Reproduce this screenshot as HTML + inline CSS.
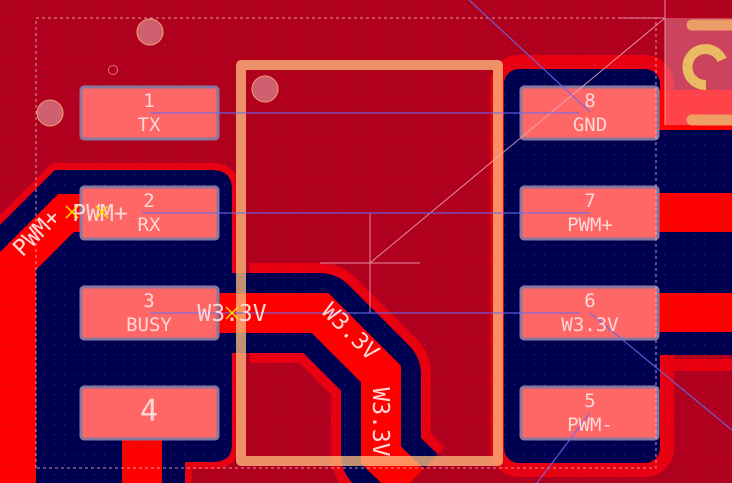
<!DOCTYPE html>
<html><head><meta charset="utf-8"><style>
html,body{margin:0;padding:0;background:#b0001e;}
svg{display:block}
text{font-family:"DejaVu Sans Mono","Liberation Mono",monospace;fill:#ffd8d8;}
</style></head><body>
<svg width="732" height="483" viewBox="0 0 732 483" xmlns="http://www.w3.org/2000/svg">
<defs>
<pattern id="dots" width="10" height="10" patternUnits="userSpaceOnUse">
<rect x="4" y="4" width="1.2" height="1.2" fill="#6a6ab0" opacity="0.35"/>
</pattern>
</defs>
<rect width="732" height="483" fill="#b0001e"/>

<!-- right navy region with ring -->
<path d="M660,365 L732,365" stroke="#e80010" stroke-width="12"/>
<rect x="497" y="62" width="170" height="408" rx="22" fill="#000050" stroke="#e80010" stroke-width="14"/>
<rect x="640" y="130" width="92" height="225" fill="#000050"/>
<rect x="640" y="193" width="92" height="39" fill="#ff0000"/>
<rect x="640" y="293" width="92" height="39" fill="#ff0000"/>
<rect x="640" y="90" width="92" height="40" fill="#ff0000"/>
<rect x="665" y="18" width="67" height="107" fill="#ffc0d0" opacity="0.35"/>
<path d="M706,85 A18,18 0 1 1 722,60" fill="none" stroke="#f0d060" stroke-width="10" opacity="0.85"/>
<line x1="692" y1="25" x2="732" y2="25" stroke="#f0a868" stroke-width="11" stroke-linecap="round" opacity="0.9"/>
<line x1="692" y1="120" x2="732" y2="120" stroke="#f0a868" stroke-width="11" stroke-linecap="round" opacity="0.9"/>

<!-- W3.3V clearance ring -->
<path d="M250,313 L320,313 L381,374 L381,455 L410,483" fill="none" stroke="#e80010" stroke-width="100" stroke-linejoin="round"/>

<!-- left navy region -->
<path d="M0,225 L55,170 L212,170 Q232,170 232,190 L232,445 Q232,462 212,462 L185,462 L185,483 L0,483 Z" fill="#000050" stroke="#e80010" stroke-width="14" stroke-linejoin="round"/>
<path d="M0,225 L55,170 L212,170 Q232,170 232,190 L232,445 Q232,462 212,462 L185,462 L185,483 L0,483 Z" fill="#000050"/>

<path d="M210,313 L320,313 L381,374 L381,455 L410,483" fill="none" stroke="#000050" stroke-width="80" stroke-linejoin="round"/>
<path d="M190,313 L320,313 L381,374 L381,455 L410,483" fill="none" stroke="#ff0000" stroke-width="40"/>

<!-- PWM+ trace -->
<path d="M17,483 L17,262 L66,213 L150,213" fill="none" stroke="#ff0000" stroke-width="38"/>
<rect x="122" y="430" width="40" height="53" fill="#ff0000"/>

<rect width="732" height="483" fill="url(#dots)"/>

<!-- pads -->
<g fill="#ff6666" stroke="#8878a0" stroke-width="3">
<rect x="81" y="87" width="137" height="52" rx="3"/>
<rect x="81" y="187" width="137" height="52" rx="3"/>
<rect x="81" y="287" width="137" height="52" rx="3"/>
<rect x="81" y="387" width="137" height="52" rx="3"/>
<rect x="521" y="87" width="137" height="52" rx="3"/>
<rect x="521" y="187" width="137" height="52" rx="3"/>
<rect x="521" y="287" width="137" height="52" rx="3"/>
<rect x="521" y="387" width="137" height="52" rx="3"/>
</g>

<g fill="#d06070" stroke="#f0a070" stroke-width="1">
<circle cx="150" cy="32" r="13"/>
<circle cx="50" cy="113" r="13"/>
<circle cx="265" cy="89" r="13"/>
</g>
<circle cx="113" cy="70" r="4.5" fill="none" stroke="#e07080" stroke-width="1"/>

<!-- silkscreen -->
<rect x="241" y="65" width="257" height="396" fill="none" stroke="#ffc080" stroke-width="10" stroke-linejoin="round" opacity="0.75"/>

<path d="M36,468 L36,18 L656,18 L656,468 Z" fill="none" stroke="#e8c0c0" stroke-width="1" stroke-dasharray="3,3" opacity="0.8"/>

<g stroke="#f0b0c0" stroke-width="1" opacity="0.8">
<line x1="370" y1="263" x2="665" y2="18"/>
<line x1="370" y1="213" x2="370" y2="313"/>
<line x1="320" y1="263" x2="420" y2="263"/>
<line x1="665" y1="0" x2="665" y2="125"/>
<line x1="620" y1="18" x2="665" y2="18"/>
</g>

<g stroke="#6a6af0" stroke-width="1.2" opacity="0.85">
<line x1="150" y1="113" x2="580" y2="113"/>
<line x1="142" y1="213" x2="590" y2="213"/>
<line x1="150" y1="313" x2="580" y2="313"/>
<line x1="469" y1="0" x2="590" y2="112"/>
<line x1="590" y1="313" x2="732" y2="430"/>
<line x1="590" y1="413" x2="537" y2="483"/>
</g>

<g font-size="19" text-anchor="middle">
<text x="149" y="107">1</text><text x="149" y="131">TX</text>
<text x="149" y="207">2</text><text x="149" y="231">RX</text>
<text x="149" y="307">3</text><text x="149" y="331">BUSY</text>
<text x="149" y="421" font-size="30">4</text>
<text x="590" y="107">8</text><text x="590" y="131">GND</text>
<text x="590" y="207">7</text><text x="590" y="231">PWM+</text>
<text x="590" y="307">6</text><text x="590" y="331">W3.3V</text>
<text x="590" y="407">5</text><text x="590" y="431">PWM-</text>
</g>

<g font-size="23">
<text x="100" y="221" text-anchor="middle">PWM+</text>
<text x="232" y="321" text-anchor="middle">W3.3V</text>
<text x="0" y="0" text-anchor="middle" transform="translate(42,238) rotate(-45)">PWM+</text>
<text x="0" y="0" text-anchor="middle" transform="translate(345,337) rotate(45)">W3.3V</text>
<text x="0" y="0" text-anchor="middle" transform="translate(373,422) rotate(90)">W3.3V</text>
</g>
<g stroke="#ffe000" stroke-width="1.5">
<path d="M66,206 L78,218 M78,206 L66,218"/>
<path d="M96,206 L108,218 M108,206 L96,218"/>
<path d="M226,307 L238,319 M238,307 L226,319"/>
</g>
</svg>
</body></html>
